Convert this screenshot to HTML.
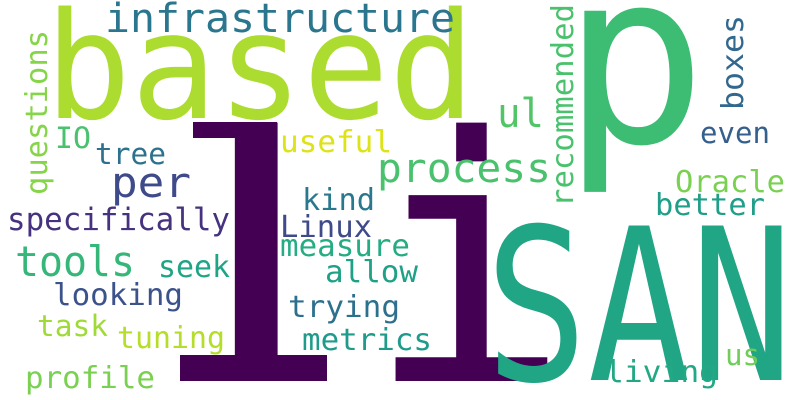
<!DOCTYPE html>
<html><head><meta charset="utf-8"><style>
html,body{margin:0;padding:0;background:#fff;width:800px;height:400px;overflow:hidden;}
svg{display:block;}
text{font-family:"DejaVu Sans Mono","Liberation Mono",monospace;}
</style></head><body>
<svg width="800" height="400" viewBox="0 0 800 400">
<rect width="800" height="400" fill="#fff"/>
<g fill="#440154">
<text x="200" y="381" font-size="340" style="font-family:'DejaVu Sans',sans-serif" transform="translate(-90,0) scale(1.4,1)">l</text>
<rect x="193" y="122" width="84" height="16"/>
<rect x="180" y="355" width="147" height="26"/>
<text x="366" y="381" font-size="340">i</text>
</g>
<text x="45" y="118" font-size="148" fill="#addc30" textLength="430" lengthAdjust="spacingAndGlyphs">based</text>
<text x="562" y="142" font-size="240" fill="#3dbc74" textLength="145" lengthAdjust="spacingAndGlyphs">p</text>
<text x="485" y="380" font-size="212" fill="#21a685" textLength="308" lengthAdjust="spacingAndGlyphs">SAN</text>
<text x="105" y="32" font-size="40" fill="#2a768e" textLength="350" lengthAdjust="spacingAndGlyphs">infrastructure</text>
<text x="497" y="127" font-size="40" fill="#52c569" textLength="47" lengthAdjust="spacingAndGlyphs">ul</text>
<text x="377" y="182" font-size="40" fill="#4ac16d" textLength="174" lengthAdjust="spacingAndGlyphs">process</text>
<text x="111" y="197" font-size="42" fill="#3e4a89" textLength="80" lengthAdjust="spacingAndGlyphs">per</text>
<text x="280" y="152" font-size="30" fill="#dde318" textLength="112" lengthAdjust="spacingAndGlyphs">useful</text>
<text transform="translate(573,207) rotate(-90)" font-size="30" fill="#4ac16d" textLength="203" lengthAdjust="spacingAndGlyphs">recommended</text>
<text transform="translate(743,110) rotate(-90)" font-size="30" fill="#31688e" textLength="95" lengthAdjust="spacingAndGlyphs">boxes</text>
<text transform="translate(47,195) rotate(-90)" font-size="30" fill="#86d549" textLength="165" lengthAdjust="spacingAndGlyphs">questions</text>
<text x="700" y="143" font-size="29" fill="#355f8d" textLength="70" lengthAdjust="spacingAndGlyphs">even</text>
<text x="675" y="192" font-size="30" fill="#7ad151" textLength="110" lengthAdjust="spacingAndGlyphs">Oracle</text>
<text x="655" y="215" font-size="30" fill="#1f9e89" textLength="110" lengthAdjust="spacingAndGlyphs">better</text>
<text x="55" y="148" font-size="29" fill="#4ac16d" textLength="36" lengthAdjust="spacingAndGlyphs">IO</text>
<text x="95" y="164" font-size="29" fill="#2c728e" textLength="71" lengthAdjust="spacingAndGlyphs">tree</text>
<text x="302" y="210" font-size="30" fill="#2a788e" textLength="73" lengthAdjust="spacingAndGlyphs">kind</text>
<text x="280" y="237" font-size="30" fill="#3e4a89" textLength="92" lengthAdjust="spacingAndGlyphs">Linux</text>
<text x="7" y="230" font-size="31" fill="#46327e" textLength="223" lengthAdjust="spacingAndGlyphs">specifically</text>
<text x="280" y="256" font-size="30" fill="#25ac82" textLength="130" lengthAdjust="spacingAndGlyphs">measure</text>
<text x="15" y="276" font-size="42" fill="#35b779" textLength="120" lengthAdjust="spacingAndGlyphs">tools</text>
<text x="158" y="277" font-size="30" fill="#20a486" textLength="72" lengthAdjust="spacingAndGlyphs">seek</text>
<text x="325" y="282" font-size="30" fill="#1fa187" textLength="93" lengthAdjust="spacingAndGlyphs">allow</text>
<text x="53" y="305" font-size="30" fill="#3b528b" textLength="130" lengthAdjust="spacingAndGlyphs">looking</text>
<text x="288" y="317" font-size="30" fill="#2d708e" textLength="112" lengthAdjust="spacingAndGlyphs">trying</text>
<text x="37" y="336" font-size="29" fill="#a0da39" textLength="71" lengthAdjust="spacingAndGlyphs">task</text>
<text x="117" y="348" font-size="30" fill="#b5de2b" textLength="108" lengthAdjust="spacingAndGlyphs">tuning</text>
<text x="302" y="350" font-size="30" fill="#1e9b8a" textLength="130" lengthAdjust="spacingAndGlyphs">metrics</text>
<text x="25" y="388" font-size="30" fill="#7ad151" textLength="130" lengthAdjust="spacingAndGlyphs">profile</text>
<text x="605" y="382" font-size="30" fill="#22a884" textLength="113" lengthAdjust="spacingAndGlyphs">living</text>
<text x="725" y="365" font-size="29" fill="#6ece58" textLength="35" lengthAdjust="spacingAndGlyphs">us</text>
</svg>
</body></html>
